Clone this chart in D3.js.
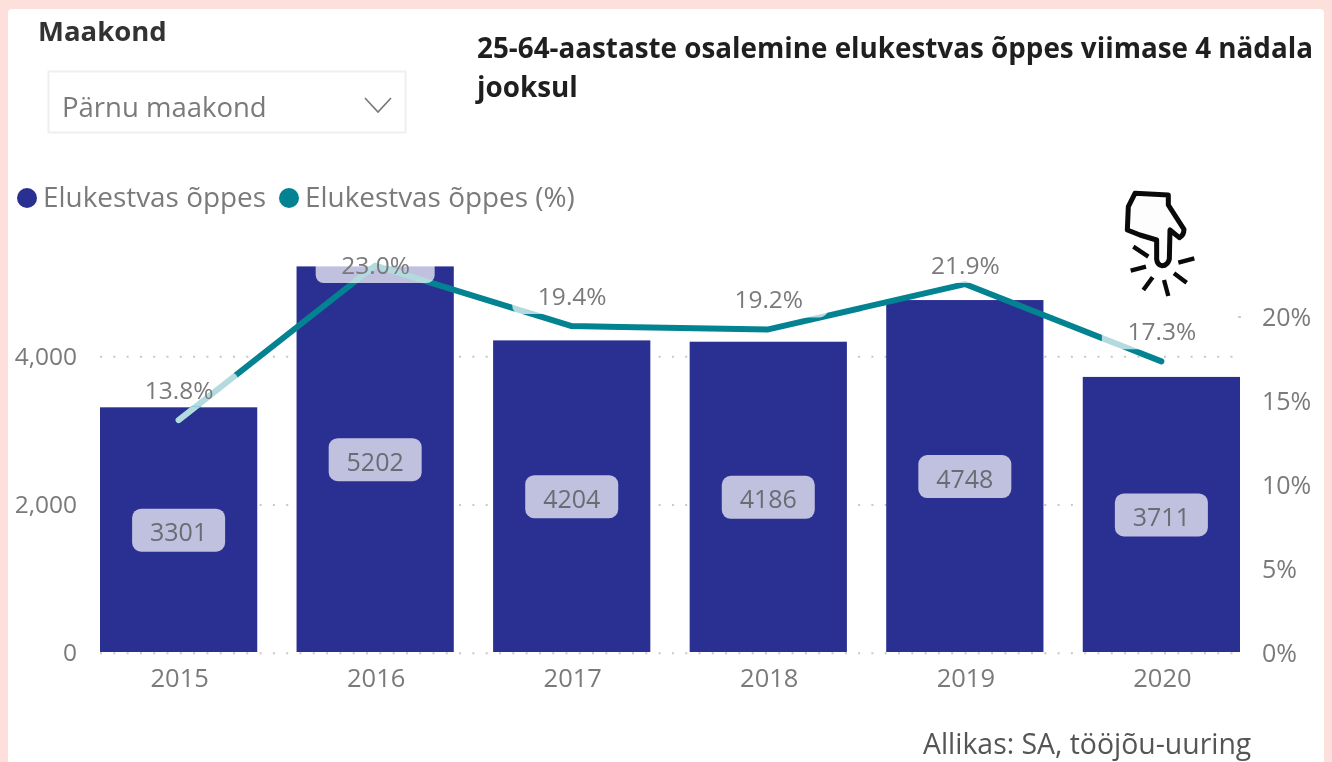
<!DOCTYPE html>
<html lang="et">
<head>
<meta charset="utf-8">
<title>25-64-aastaste osalemine elukestvas õppes</title>
<script src="https://cdn.jsdelivr.net/npm/d3@7/dist/d3.min.js"></script>
<style>
html,body{margin:0;padding:0;background:#fde0dc;overflow:hidden}
svg{display:block;font-family:"Open Sans",sans-serif}
.soft{filter:blur(.65px)}
</style>
</head>
<body>
<svg id="c" width="1332" height="762"></svg>
<script>
const years = ["2015","2016","2017","2018","2019","2020"];
const counts = [3301,5202,4204,4186,4748,3711];
const shares = [13.8,23.0,19.4,19.2,21.9,17.3];
const leftTicks = [0,2000,4000];
const rightTicks = [0,5,10,15,20];
const legendItems = ["Elukestvas õppes","Elukestvas õppes (%)"];
const titleLines = ["25-64-aastaste osalemine elukestvas õppes viimase 4 nädala","jooksul"];

const NAVY="#2a3091", TEAL="#038391", GREY="#7a7a7a", PALE="#b3dade";
const svg=d3.select("#c");
svg.append("rect").attr("width",1332).attr("height",762).attr("fill","#fde0dc");
svg.append("rect").attr("x",8).attr("y",9).attr("width",1316).attr("height",760).attr("rx",4).attr("fill","#fff");
const g=svg.append("g").attr("class","soft");

const x=d3.scaleBand().domain(years).range([100,1240]).paddingInner(0.2).paddingOuter(0);
const y=d3.scaleLinear().domain([0,4000]).range([652,355.5]);
const yR=d3.scaleLinear().domain([0,20]).range([652,316]);
const cx=d=>x(d)+x.bandwidth()/2;

// gridlines
const gridLine=s=>s.attr("x1",100).attr("x2",1240).attr("y1",d=>y(d)+1.3).attr("y2",d=>y(d)+1.3)
 .attr("stroke","#c8c8c8").attr("stroke-width",2).attr("stroke-dasharray","2 11.3");
g.append("g").selectAll("line").data(leftTicks.filter(d=>d>0)).join("line").call(gridLine);
g.append("line").attr("x1",1238).attr("x2",1241).attr("y1",yR(20)+1).attr("y2",yR(20)+1)
 .attr("stroke","#cfcfcf").attr("stroke-width",2);

// bars
g.append("g").selectAll("rect").data(years).join("rect")
 .attr("x",d=>x(d)).attr("width",x.bandwidth())
 .attr("y",(d,i)=>y(counts[i])).attr("height",(d,i)=>y(0)-y(counts[i]))
 .attr("fill",NAVY);
g.append("g").selectAll("line").data(leftTicks.filter(d=>d===0)).join("line").call(gridLine);

// line
const line=d3.line().x(d=>cx(d.year)).y(d=>yR(d.share));
const pts=years.map((year,i)=>({year,share:shares[i]}));
g.append("path").attr("d",line(pts)).attr("fill","none").attr("stroke",TEAL)
 .attr("stroke-width",6).attr("stroke-linecap","round").attr("stroke-linejoin","round");

// percent label backgrounds (they wash out what lies beneath them)
const pctY=d=>Math.max(yR(d)-30,265);
g.append("g").selectAll("rect").data(pts).join("rect")
 .attr("x",d=>cx(d.year)-59.5).attr("width",119)
 .attr("y",d=>pctY(d.share)-18).attr("height",(d,i)=>i===0?34:36).attr("rx",8)
 .attr("fill","#fff").attr("opacity",.7);
// the first label's wash continues along the line to its end
svg.append("clipPath").attr("id","firstWash").append("rect")
 .attr("x",150).attr("y",pctY(shares[0])+16).attr("width",90).attr("height",40);
g.append("path").attr("d",line(pts)).attr("fill","none").attr("stroke",PALE)
 .attr("stroke-width",6).attr("stroke-linecap","round").attr("clip-path","url(#firstWash)");

// percent labels
g.append("g").selectAll("text").data(pts).join("text")
 .attr("x",d=>cx(d.year)+.5).attr("y",d=>pctY(d.share)).attr("dy",".36em")
 .attr("text-anchor","middle").attr("font-size",24.5).attr("fill",GREY)
 .text(d=>d.share.toFixed(1)+"%");

// value labels
const vals=g.append("g").selectAll("g").data(years).join("g")
 .attr("transform",(d,i)=>`translate(${cx(d)},${(y(0)+y(counts[i]))/2+.5})`);
vals.append("rect").attr("x",-46.5).attr("y",-21.5).attr("width",93).attr("height",43).attr("rx",9)
 .attr("fill","#fff").attr("opacity",.7);
vals.append("text").attr("y",2).attr("dy",".36em").attr("text-anchor","middle")
 .attr("font-size",25).attr("fill","#6b6b74").text((d,i)=>counts[i]);

// axes
function clean(s,size){
  s.select(".domain").remove(); s.selectAll(".tick line").remove();
  s.selectAll("text").attr("font-size",size).attr("fill",GREY).attr("font-family",'"Open Sans",sans-serif');
}
g.append("g").attr("transform","translate(77,1)")
 .call(d3.axisLeft(y).tickValues(leftTicks).tickFormat(d3.format(",")).tickSize(0).tickPadding(0)).call(clean,24.5);
g.append("g").attr("transform","translate(1262,1)")
 .call(d3.axisRight(yR).tickValues(rightTicks).tickFormat(d=>d+"%").tickSize(0).tickPadding(0)).call(clean,25);
g.append("g").attr("transform","translate(1,669)")
 .call(d3.axisBottom(x).tickSize(0).tickPadding(0)).call(clean,25.5);

// legend
const lx=[27,289];
legendItems.forEach((t,i)=>{
  g.append("circle").attr("cx",lx[i]).attr("cy",198).attr("r",10).attr("fill",i?TEAL:NAVY);
  g.append("text").attr("x",lx[i]+16).attr("y",207).attr("font-size",27.9).attr("fill",GREY).text(t);
});

// title and slicer
titleLines.forEach((t,i)=>g.append("text").attr("x",477).attr("y",58+i*39)
  .attr("font-size",27.8).attr("font-weight",700).attr("fill","#1f1f1f").text(t));
g.append("text").attr("x",38).attr("y",41).attr("font-size",27.5).attr("font-weight",700).attr("fill","#333").text("Maakond");
g.append("rect").attr("x",48.5).attr("y",71.5).attr("width",357).attr("height",61)
 .attr("fill","#fff").attr("stroke","#efefef").attr("stroke-width",2);
g.append("text").attr("x",62).attr("y",117).attr("font-size",27.5).attr("fill",GREY).text("Pärnu maakond");
g.append("path").attr("d",d3.line()([[365,98],[378,112],[391,98]])).attr("fill","none").attr("stroke","#777").attr("stroke-width",1.6);

// source
g.append("text").attr("x",923).attr("y",754).attr("font-size",28.4).attr("fill","#555").text("Allikas: SA, tööjõu-uuring");

// hand pictogram
const hand=g.append("g").attr("transform","translate(1080,170) scale(.3333)")
 .attr("stroke","#0a0a0a").attr("stroke-linecap","round").attr("stroke-linejoin","round");
hand.append("path").attr("fill","#fdfdfd").attr("stroke-width",15)
 .attr("d","M165,70 L265,75 L265,105 L312,178 Q312,196 298,203 L270,180 L268,268 Q262,288 245,287 Q232,284 230,268 L230,210 L180,195 L142,180 L145,110 Z");
hand.append("path").attr("fill","none").attr("stroke-width",13).attr("stroke-linecap","butt")
 .attr("d","M160,230L205,260M152,302L198,290M190,360L218,322M265,378L252,330M320,338L282,310M295,278L343,265");
</script>
</body>
</html>
